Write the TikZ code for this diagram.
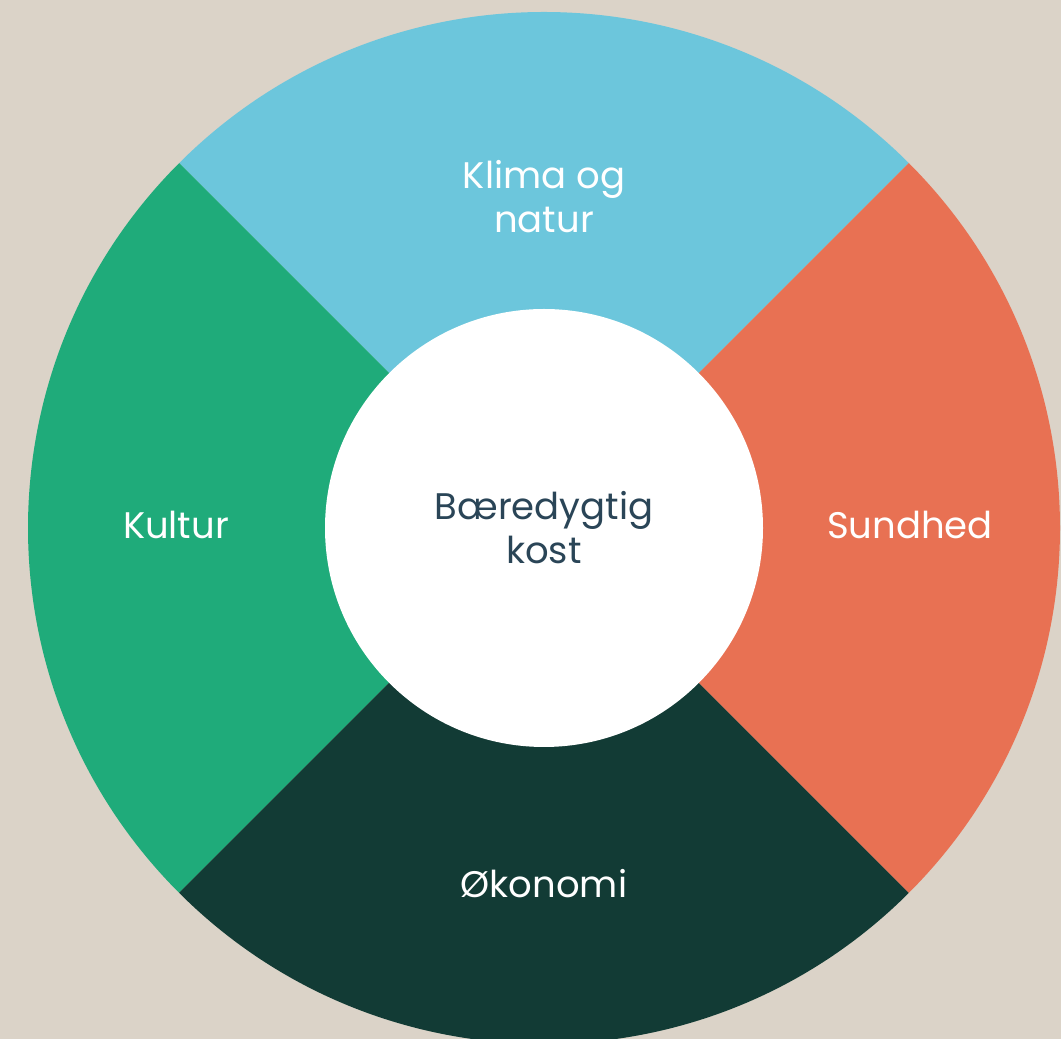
\documentclass[tikz,border=0pt]{standalone}
\usepackage{fontspec}
\setmainfont{Poppins}
\definecolor{bg}{HTML}{DBD3C8}
\definecolor{klima}{HTML}{6CC6DC}
\definecolor{sund}{HTML}{E87153}
\definecolor{kult}{HTML}{1FAB7A}
\definecolor{okon}{HTML}{123B35}
\definecolor{txt}{HTML}{2A4557}
\begin{document}
\begin{tikzpicture}[x=1pt,y=1pt,
  lab/.style={text=white,font=\fontsize{37}{44}\selectfont,align=center},
  clab/.style={text=txt,font=\fontsize{37}{44}\selectfont,align=center}]
\useasboundingbox (0,0) rectangle (1061,1039);
\fill[bg] (0,0) rectangle (1061,1039);
\coordinate (c) at (544,511);
\begin{scope}
\clip (0,0) rectangle (1061,1039);
\fill[klima] (c) -- ++(45:516) arc[start angle=45,end angle=135,radius=516] -- cycle;
\fill[kult] (c) -- ++(135:516) arc[start angle=135,end angle=225,radius=516] -- cycle;
\fill[okon] (c) -- ++(225:516) arc[start angle=225,end angle=315,radius=516] -- cycle;
\fill[sund] (c) -- ++(315:516) arc[start angle=-45,end angle=45,radius=516] -- cycle;
\end{scope}
\node[circle,fill=white,minimum size=438pt,inner sep=0pt] (hub) at (c) {};
\node[clab] (center) at (c) {Bæredygtig\\kost};
\node[lab] (klimaT) at (544,842) {Klima og\\natur};
\node[lab] (sundT) at (910,514) {Sundhed};
\node[lab] (kultT) at (176,514) {Kultur};
\node[lab] (okonT) at (544,155) {Økonomi};
\end{tikzpicture}
\end{document}
